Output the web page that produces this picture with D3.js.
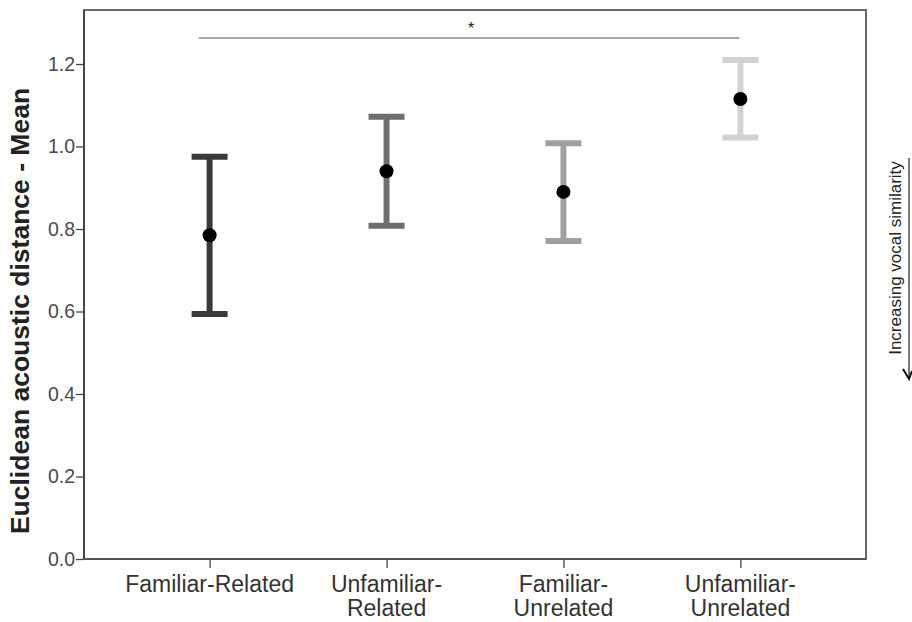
<!DOCTYPE html>
<html><head><meta charset="utf-8">
<script src="https://cdn.jsdelivr.net/npm/d3@7"></script>
<style>body{margin:0;background:#fff}svg{display:block}</style>
</head><body>
<script>
const categories = [["Familiar-Related"],["Unfamiliar-","Related"],["Familiar-","Unrelated"],["Unfamiliar-","Unrelated"]];
const means = [0.785, 0.940, 0.890, 1.115];
const upper = [0.975, 1.072, 1.008, 1.210];
const lower = [0.594, 0.808, 0.771, 1.022];
const barColors = ["#3a3a3a","#6e6e6e","#a0a0a0","#d2d2d2"];
const yTicks = [0.0,0.2,0.4,0.6,0.8,1.0,1.2];
const yTitle = "Euclidean acoustic distance - Mean";
const sigLabel = "*";
const sideLabel = "Increasing vocal similarity";

const W=912,H=622;
const L=84,R=866,T=10,B=559;
const FF="Liberation Sans, Arial, sans-serif";
const svg=d3.select("body").append("svg").attr("width",W).attr("height",H);
const keys=d3.range(categories.length);
const x=d3.scalePoint().domain(keys).range([L,R]).padding(0.71);
const y=d3.scaleLinear().domain([0,1.2]).range([B,64]);

// frame
svg.append("rect").attr("x",L).attr("y",T).attr("width",R-L).attr("height",B-T)
  .attr("fill","none").attr("stroke","#6a6a6a").attr("stroke-width",2);

// y axis
const ya=svg.append("g").attr("transform",`translate(${L},0)`)
  .call(d3.axisLeft(y).tickValues(yTicks).tickFormat(d3.format(".1f")).tickSize(8).tickPadding(1));
ya.select(".domain").remove();
ya.selectAll("line").attr("stroke","#444").attr("stroke-width",1.3);
ya.selectAll("text").attr("font-family",FF).attr("font-size",19.5).attr("fill","#4a4a4a");

// x axis
const xa=svg.append("g").attr("transform",`translate(0,${B})`)
  .call(d3.axisBottom(x).tickSize(9).tickFormat(""));
xa.select(".domain").remove();
xa.selectAll("line").attr("stroke","#444").attr("stroke-width",1.3);
const lab=svg.append("g").attr("font-family",FF).attr("font-size",23).attr("fill","#333").attr("text-anchor","middle");
keys.forEach(i=>{
  const lines=categories[i];
  const t=lab.append("text").attr("x",x(i)).attr("y",592);
  lines.forEach((s,j)=>t.append("tspan").attr("x",x(i)).attr("dy",j===0?0:24).text(s));
});

// axis line overlays (darker)
svg.append("line").attr("x1",L).attr("x2",L).attr("y1",T).attr("y2",B).attr("stroke","#444").attr("stroke-width",2);
svg.append("line").attr("x1",L).attr("x2",R).attr("y1",B).attr("y2",B).attr("stroke","#555").attr("stroke-width",2);

// y title
svg.append("text").attr("transform",`translate(29,311) rotate(-90)`)
  .attr("text-anchor","middle").attr("font-family",FF)
  .attr("font-size",26.5).attr("font-weight","bold").attr("fill","#222").text(yTitle);

// error bars
const cap=18;
const g=svg.append("g");
keys.forEach(i=>{
  const cx=x(i);
  g.append("line").attr("x1",cx).attr("x2",cx).attr("y1",y(upper[i])).attr("y2",y(lower[i]))
    .attr("stroke",barColors[i]).attr("stroke-width",6);
  [upper[i],lower[i]].forEach(v=>g.append("line").attr("x1",cx-cap).attr("x2",cx+cap)
    .attr("y1",y(v)).attr("y2",y(v)).attr("stroke",barColors[i]).attr("stroke-width",6));
  g.append("circle").attr("cx",cx).attr("cy",y(means[i])).attr("r",7).attr("fill","#000");
});

// significance
svg.append("line").attr("x1",x(0)-11).attr("x2",x(3)-1).attr("y1",38).attr("y2",38).attr("stroke","#555").attr("stroke-width",1.2);
svg.append("text").attr("x",(x(0)+x(3))/2-4).attr("y",34).attr("text-anchor","middle")
  .attr("font-family",FF).attr("font-size",16).attr("fill","#222").text(sigLabel);

// side annotation
svg.append("text").attr("transform",`translate(901,258) rotate(-90)`).attr("text-anchor","middle")
  .attr("font-family",FF).attr("font-size",17).attr("fill","#222").text(sideLabel);
svg.append("line").attr("x1",909).attr("x2",909).attr("y1",158).attr("y2",377).attr("stroke","#333").attr("stroke-width",1.3);
svg.append("path").attr("d","M903,369 L909,379 L912,371").attr("fill","none").attr("stroke","#111").attr("stroke-width",2);
</script>
</body></html>
